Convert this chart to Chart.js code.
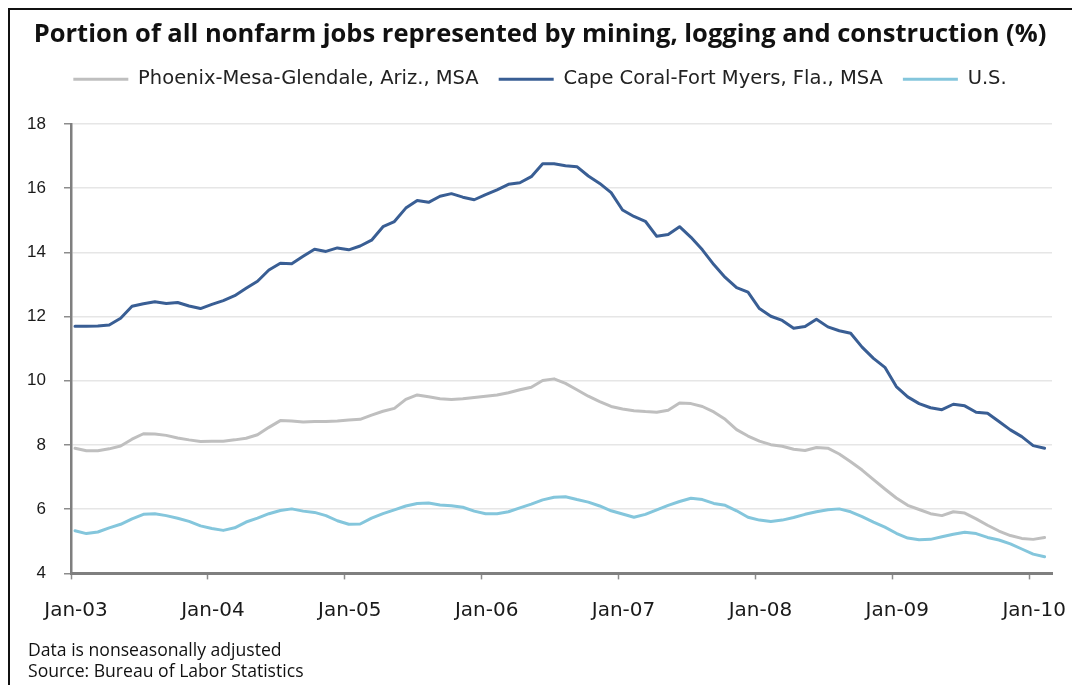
<!DOCTYPE html>
<html>
<head>
<meta charset="utf-8">
<script src="https://cdn.jsdelivr.net/npm/chart.js@4.4.1/dist/chart.umd.min.js"></script>
<style>
  html, body { margin: 0; padding: 0; background: #ffffff; overflow: hidden; }
  #frame { position: absolute; left: 8px; top: 8px; width: 1100px; height: 700px; border: 2px solid #111; box-sizing: border-box; }
  #c { position: absolute; left: 0; top: 0; }
</style>
</head>
<body>
<div id="frame"></div>
<canvas id="c" width="1072" height="685"></canvas>
<script>
// ---- Data (monthly, Jan-03 .. Feb-10), percent ----
const monthNames = ['Jan','Feb','Mar','Apr','May','Jun','Jul','Aug','Sep','Oct','Nov','Dec'];
const xTickLabels = ['Jan-03','Jan-04','Jan-05','Jan-06','Jan-07','Jan-08','Jan-09','Jan-10'];
const yTickValues = [4, 6, 8, 10, 12, 14, 16, 18];

const phoenix = [
  7.90, 7.82, 7.82, 7.88, 7.97, 8.18, 8.35, 8.34, 8.30, 8.22, 8.16, 8.11,
  8.12, 8.12, 8.16, 8.21, 8.32, 8.55, 8.76, 8.75, 8.72, 8.73, 8.73, 8.75,
  8.78, 8.80, 8.93, 9.05, 9.14, 9.42, 9.56, 9.50, 9.44, 9.42, 9.44, 9.48,
  9.52, 9.56, 9.63, 9.72, 9.80, 10.01, 10.06, 9.92, 9.72, 9.52, 9.35, 9.20,
  9.12, 9.07, 9.04, 9.02, 9.08, 9.31, 9.29, 9.20, 9.03, 8.80, 8.48, 8.28,
  8.12, 8.01, 7.96, 7.87, 7.83, 7.92, 7.90, 7.72, 7.48, 7.22, 6.92, 6.63,
  6.35, 6.12, 5.99, 5.86, 5.80, 5.92, 5.88, 5.70, 5.50, 5.32, 5.18, 5.09,
  5.06, 5.12
];
const capeCoral = [
  11.70, 11.70, 11.71, 11.74, 11.95, 12.32, 12.40, 12.46, 12.41, 12.44, 12.33, 12.25,
  12.38, 12.50, 12.65, 12.88, 13.10, 13.45, 13.66, 13.65, 13.88, 14.10, 14.03, 14.14,
  14.08, 14.20, 14.38, 14.80, 14.96, 15.38, 15.62, 15.56, 15.75, 15.83, 15.72, 15.64,
  15.80, 15.95, 16.12, 16.17, 16.36, 16.76, 16.76, 16.70, 16.67, 16.38, 16.15, 15.86,
  15.32, 15.12, 14.97, 14.50, 14.56, 14.80, 14.47, 14.08, 13.62, 13.22, 12.90, 12.76,
  12.25, 12.01, 11.88, 11.64, 11.69, 11.92, 11.68, 11.56, 11.48, 11.05, 10.70, 10.42,
  9.82, 9.50, 9.29, 9.16, 9.10, 9.27, 9.22, 9.02, 8.99, 8.73, 8.47, 8.26,
  7.98, 7.90
];
const us = [
  5.33, 5.24, 5.29, 5.42, 5.53, 5.70, 5.84, 5.86, 5.80, 5.72, 5.62, 5.48,
  5.40, 5.34, 5.42, 5.60, 5.72, 5.86, 5.96, 6.01, 5.94, 5.90, 5.80, 5.64,
  5.53, 5.54, 5.72, 5.86, 5.98, 6.10, 6.18, 6.19, 6.13, 6.11, 6.06, 5.94,
  5.86, 5.86, 5.92, 6.04, 6.16, 6.29, 6.37, 6.39, 6.30, 6.22, 6.10, 5.95,
  5.85, 5.75, 5.84, 5.98, 6.12, 6.24, 6.34, 6.30, 6.18, 6.12, 5.95, 5.75,
  5.66, 5.62, 5.66, 5.74, 5.84, 5.92, 5.98, 6.01, 5.92, 5.77, 5.60, 5.44,
  5.25, 5.10, 5.05, 5.06, 5.14, 5.22, 5.28, 5.24, 5.12, 5.04, 4.92, 4.76,
  4.60, 4.52
];

const seriesNames = ['Phoenix-Mesa-Glendale, Ariz., MSA', 'Cape Coral-Fort Myers, Fla., MSA', 'U.S.'];
const titleText = 'Portion of all nonfarm jobs represented by mining, logging and construction (%)';
const footnotes = ['Data is nonseasonally adjusted', 'Source: Bureau of Labor Statistics'];

// month labels (Jan-03 ...)
const categories = phoenix.map((_, i) => monthNames[i % 12] + '-' + String(3 + Math.floor(i / 12)).padStart(2, '0'));

// points sit slightly after the January tick marks (mid-month dating)
const MONTH_SHIFT = 0.35;
const toPoints = arr => arr.map((v, i) => ({ x: i + MONTH_SHIFT, y: v }));

// font sizes fitted to the reference text widths
function fitSize(text, weight, family, targetWidth, maxSize) {
  const ctx = document.createElement('canvas').getContext('2d');
  ctx.font = weight + ' 100px "' + family + '"';
  const s = 100 * targetWidth / ctx.measureText(text).width;
  return Math.min(maxSize, Math.round(s * 10) / 10);
}
const titleSize = fitSize(titleText, 'bold', 'Open Sans', 1016, 25.5);
const noteSize = fitSize(footnotes[1], 'normal', 'Open Sans', 276, 18);

const PAD_TOP = 19;
const TITLE_PB = 0;
const CHART_TOP = 124;

const legendSpacer = {
  id: 'legendSpacer',
  beforeLayout(chart) {
    const lg = chart.legend;
    if (lg && !lg._wrappedFit) {
      const orig = lg.fit;
      lg.fit = function () {
        orig.apply(this, arguments);
        this.height = CHART_TOP - PAD_TOP - titleSize * 1.2 - TITLE_PB;
      };
      lg._wrappedFit = true;
    }
  }
};

new Chart(document.getElementById('c'), {
  type: 'line',
  data: {
    datasets: [
      { label: seriesNames[0], data: toPoints(phoenix), borderColor: '#bfbfbf', backgroundColor: '#bfbfbf' },
      { label: seriesNames[1], data: toPoints(capeCoral), borderColor: '#395e94', backgroundColor: '#395e94' },
      { label: seriesNames[2], data: toPoints(us), borderColor: '#84c6dc', backgroundColor: '#84c6dc' }
    ]
  },
  options: {
    responsive: false,
    animation: false,
    devicePixelRatio: 1,
    elements: {
      line: { borderWidth: 3, tension: 0, borderCapStyle: 'round', borderJoinStyle: 'round' },
      point: { radius: 0 }
    },
    layout: { padding: { left: 28, right: 20, top: PAD_TOP, bottom: 2 } },
    plugins: {
      title: {
        display: true,
        text: titleText,
        color: '#111111',
        font: { family: 'Open Sans', weight: 'bold', size: titleSize, lineHeight: 1.2 },
        padding: { top: 0, bottom: TITLE_PB }
      },
      subtitle: {
        display: true,
        position: 'bottom',
        align: 'start',
        text: footnotes,
        color: '#111111',
        font: { family: 'Open Sans', size: noteSize, lineHeight: 21.6 / noteSize },
        padding: 0
      },
      legend: {
        display: true,
        position: 'top',
        labels: {
          boxWidth: 55,
          boxHeight: 3,
          padding: 20,
          color: '#222222',
          font: { family: 'DejaVu Sans', size: 19.5 },
          generateLabels(chart) {
            return Chart.defaults.plugins.legend.labels.generateLabels(chart).map(it => {
              it.lineWidth = 0;
              it.fillStyle = it.strokeStyle;
              return it;
            });
          }
        }
      },
      tooltip: { enabled: false }
    },
    scales: {
      x: {
        type: 'linear',
        min: 0,
        max: categories.length,
        afterBuildTicks(axis) {
          axis.ticks = xTickLabels.map((_, k) => ({ value: k * 12 }));
        },
        afterFit(axis) {
          axis.height = 66.4;
          axis.paddingLeft = 0;
          axis.paddingRight = 0;
        },
        ticks: {
          autoSkip: false,
          maxRotation: 0,
          padding: 19,
          labelOffset: 5,
          color: '#1a1a1a',
          font: { family: 'DejaVu Sans', size: 20 },
          callback: (v) => xTickLabels[Math.round(v / 12)]
        },
        grid: {
          display: true,
          drawOnChartArea: false,
          drawTicks: true,
          tickLength: 6,
          tickColor: '#8c8c8c',
          tickWidth: 1.5
        },
        border: { display: true, color: '#7f7f7f', width: 3 }
      },
      y: {
        min: 4,
        max: 18,
        afterBuildTicks(axis) {
          axis.ticks = yTickValues.map(v => ({ value: v }));
        },
        afterFit(axis) { axis.width = 43; },
        ticks: {
          padding: 18,
          color: '#1a1a1a',
          font: { family: 'Liberation Sans', size: 17 },
          callback: (v) => String(v)
        },
        grid: {
          color: (c) => c.tick && c.tick.value === 4 ? 'rgba(0,0,0,0)' : '#e6e6e6',
          lineWidth: 1.5,
          borderDash: [5, 2],
          tickLength: 7,
          tickColor: '#8c8c8c',
          tickWidth: 1.5,
          tickBorderDash: []
        },
        border: { display: true, color: '#7f7f7f', width: 2.5 }
      }
    }
  },
  plugins: [legendSpacer]
});
</script>
</body>
</html>
